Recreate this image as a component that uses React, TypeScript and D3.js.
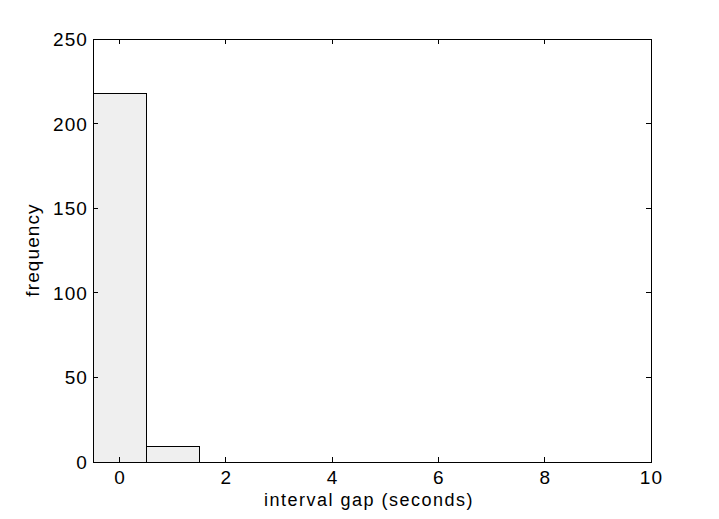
import React, { useEffect, useRef } from "react";
import * as d3 from "d3";

// histogram bins (centers) and counts
const binCenters = [0, 1, 2, 3, 4, 5, 6, 7, 8, 9];
const counts = [218, 9, 0, 0, 0, 0, 0, 0, 0, 0];
const xTicks = [0, 2, 4, 6, 8, 10];
const yTicks = [0, 50, 100, 150, 200, 250];

export default function App() {
  const ref = useRef<SVGSVGElement>(null);

  useEffect(() => {
    const svg = d3.select(ref.current);
    svg.selectAll("*").remove();

    const width = 719;
    const height = 519;
    const left = 93;
    const right = 651;
    const top = 39;
    const bottom = 462;
    const font = "Arial, 'Liberation Sans', Helvetica, sans-serif";
    const fontSize = 19;
    const spacing = "1.1px";

    const x = d3.scaleLinear().domain([-0.5, 10]).range([left, right]);
    const y = d3.scaleLinear().domain([0, 250]).range([bottom, top]);

    svg.append("rect").attr("width", width).attr("height", height).attr("fill", "#fff");

    // bars
    svg
      .append("g")
      .selectAll("rect")
      .data(binCenters.map((c, i) => ({ c, v: counts[i] })).filter((d) => d.v > 0))
      .join("rect")
      .attr("x", (d) => x(d.c - 0.5))
      .attr("y", (d) => y(d.v))
      .attr("width", (d) => x(d.c + 0.5) - x(d.c - 0.5))
      .attr("height", (d) => y(0) - y(d.v))
      .attr("fill", "#efefef")
      .attr("stroke", "#000")
      .attr("stroke-width", 1)
      .attr("shape-rendering", "crispEdges");

    // box
    svg
      .append("rect")
      .attr("x", left)
      .attr("y", top)
      .attr("width", right - left)
      .attr("height", bottom - top)
      .attr("fill", "none")
      .attr("stroke", "#000")
      .attr("shape-rendering", "crispEdges");

    const tickLen = 5;
    const g = svg.append("g").attr("stroke", "#000").attr("shape-rendering", "crispEdges");
    xTicks.forEach((t) => {
      g.append("line").attr("x1", x(t)).attr("x2", x(t)).attr("y1", bottom).attr("y2", bottom - tickLen);
      g.append("line").attr("x1", x(t)).attr("x2", x(t)).attr("y1", top).attr("y2", top + tickLen);
    });
    yTicks.forEach((t) => {
      g.append("line").attr("x1", left).attr("x2", left + tickLen).attr("y1", y(t)).attr("y2", y(t));
      g.append("line").attr("x1", right).attr("x2", right - tickLen).attr("y1", y(t)).attr("y2", y(t));
    });

    // tick labels
    svg
      .append("g")
      .selectAll("text")
      .data(xTicks)
      .join("text")
      .attr("x", (d) => x(d) + 0.5)
      .attr("y", 484)
      .attr("text-anchor", "middle")
      .attr("font-family", font)
      .attr("font-size", fontSize)
      .attr("letter-spacing", spacing)
      .text((d) => d);

    svg
      .append("g")
      .selectAll("text")
      .data(yTicks)
      .join("text")
      .attr("x", left - 5)
      .attr("y", (d) => y(d) + 7)
      .attr("text-anchor", "end")
      .attr("font-family", font)
      .attr("font-size", fontSize)
      .attr("letter-spacing", spacing)
      .text((d) => d);

    // axis titles
    svg
      .append("text")
      .attr("x", 369)
      .attr("y", 506)
      .attr("text-anchor", "middle")
      .attr("font-family", font)
      .attr("font-size", 18)
      .attr("letter-spacing", "1.5px")
      .text("interval gap (seconds)");

    svg
      .append("text")
      .attr("transform", `translate(39, 250) rotate(-90)`)
      .attr("text-anchor", "middle")
      .attr("font-family", font)
      .attr("font-size", fontSize)
      .attr("letter-spacing", spacing)
      .text("frequency");
  }, []);

  return (
    <div style={{ margin: -8 }}>
      <svg ref={ref} width={719} height={519} style={{ display: "block" }}></svg>
    </div>
  );
}
